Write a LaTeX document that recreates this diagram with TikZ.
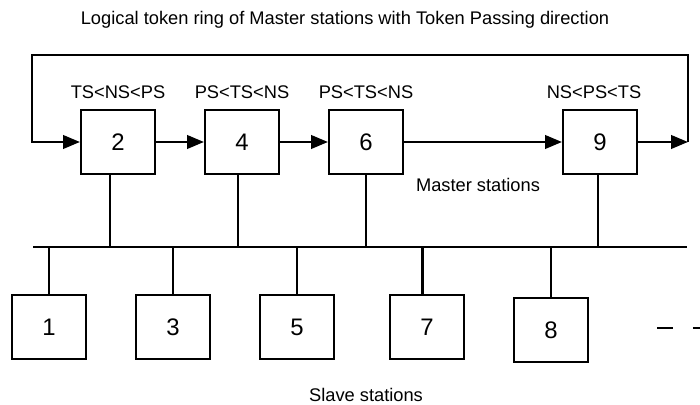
\documentclass[tikz,border=0pt]{standalone}
\usepackage{fontspec}
\setmainfont{Liberation Sans}
\usetikzlibrary{positioning,arrows.meta}

\begin{document}
\begin{tikzpicture}[x=0.025cm,y=-0.025cm,
	station/.style={draw,line width=1.4pt,minimum width=1.85cm,minimum height=1.6cm,inner sep=0pt,font=\fontsize{17}{20}\selectfont},
	order/.style={inner sep=0pt,font=\fontsize{13}{15}\selectfont},
	caption/.style={inner sep=0pt,font=\fontsize{13}{15}\selectfont},
	link/.style={line width=1.9pt},
	pass/.style={link,-{Triangle[length=12pt,width=9.5pt]}}]
		\useasboundingbox (0,0) rectangle (700,405);
		
		\node[caption] (title) at (345,20) {Logical token ring of Master stations with Token Passing direction};
		
		%%% MASTER STATIONS
		\node[station] (m2) at (118,142) {2};
		\node[station] (m4) at (242,142) {4};
		\node[station] (m6) at (366,142) {6};
		\node[station] (m9) at (600,142) {9};
		\node[order,above=2.6mm of m2] (o2) {TS<NS<PS};
		\node[order,above=2.6mm of m4] (o4) {PS<TS<NS};
		\node[order,above=2.6mm of m6] (o6) {PS<TS<NS};
		\node[order,above=2.6mm of m9,xshift=-0.15cm] (o9) {NS<PS<TS};
		\node[caption] (mcap) at (478,185) {Master stations};
		
		%%% TOKEN RING
		\coordinate (ringR) at (688,142);
		\coordinate (ringTR) at (688,55);
		\coordinate (ringTL) at (32,55);
		\coordinate (ringL) at (32,142);
		\draw[pass] (m2) -- (m4);
		\draw[pass] (m4) -- (m6);
		\draw[pass] (m6) -- (m9);
		\draw[pass] (m9) -- (ringR);
		\draw[pass] (ringR) -- (ringTR) -- (ringTL) -- (ringL) -- (m2);
		
		%%% BUS
		\coordinate (busL) at (33,247);
		\coordinate (busR) at (687,247);
		\draw[link] (busL) -- (busR);
		\draw[link] ([xshift=-0.2cm]m2.south) -- ([xshift=-0.2cm]m2.south |- busL);
		\draw[link] ([xshift=-0.1cm]m4.south) -- ([xshift=-0.1cm]m4.south |- busL);
		\draw[link] (m6.south) -- (m6.south |- busL);
		\draw[link] ([xshift=-0.05cm]m9.south) -- ([xshift=-0.05cm]m9.south |- busL);
		
		%%% SLAVE STATIONS
		\node[station] (s1) at (49,327) {1};
		\node[station] (s3) at (173,327) {3};
		\node[station] (s5) at (297,327) {5};
		\node[station] (s7) at (427,327) {7};
		\node[station] (s8) at (551,330) {8};
		\draw[link] (s1.north) -- (s1.north |- busL);
		\draw[link] (s3.north) -- (s3.north |- busL);
		\draw[link] (s5.north) -- (s5.north |- busL);
		\draw[link] ([xshift=-0.12cm]s7.north) -- ([xshift=-0.12cm]s7.north |- busL);
		\draw[link] (s8.north) -- (s8.north |- busL);
		\coordinate (more) at (657,328);
		\coordinate (moreR) at (712,328);
		\draw[link,dash pattern=on 11.3pt off 14.2pt] (more) -- (moreR);
		\node[caption] (scap) at (366,395) {Slave stations};
		
	\end{tikzpicture}
\end{document}
